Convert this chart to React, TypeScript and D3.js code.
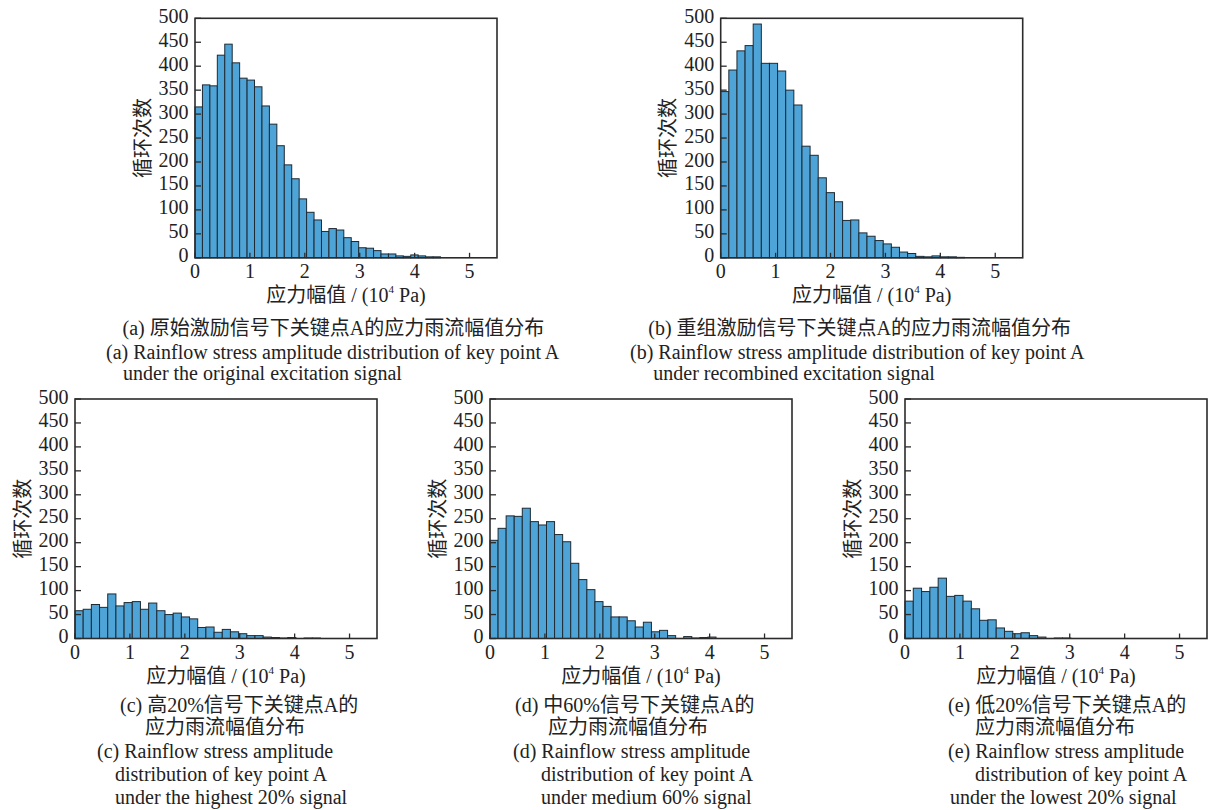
import React from "react";
import * as d3 from "d3";

// ---------- data ----------
const countsA = [315, 361, 359, 423, 446, 407, 375, 371, 357, 317, 279, 234, 194, 165, 123, 95, 79, 55, 61, 58, 42, 34, 21, 20, 15, 8, 8, 4, 3, 6, 4, 2, 2];
const countsB = [347, 392, 432, 443, 488, 406, 406, 390, 350, 319, 233, 214, 167, 136, 117, 78, 79, 52, 45, 36, 29, 22, 12, 9, 3, 2, 4, 2, 2, 1];
const countsC = [58, 61, 71, 65, 93, 68, 75, 77, 61, 74, 58, 50, 53, 45, 41, 23, 24, 13, 19, 14, 10, 6, 6, 3, 2, 1, 2, 0, 1, 1];
const countsD = [205, 230, 256, 255, 272, 244, 237, 244, 217, 202, 157, 123, 102, 77, 67, 45, 45, 37, 24, 34, 14, 17, 6, 0, 4, 1, 2, 3];
const countsE = [78, 105, 98, 107, 126, 88, 90, 78, 62, 38, 39, 22, 15, 10, 12, 6, 3, 0, 1, 1];
const binWidths = [0.1355, 0.148, 0.149, 0.147, 0.151];

const xTicks = [0, 1, 2, 3, 4, 5];
const yTicks = [0, 50, 100, 150, 200, 250, 300, 350, 400, 450, 500];
const xDomain = [0, 5.5];
const yDomain = [0, 500];

const yLabel = "循环次数";
const xLabelMain = "应力幅值 / (10";
const xLabelSup = "4";
const xLabelEnd = " Pa)";

const captionsA = ["(a) 原始激励信号下关键点A的应力雨流幅值分布", "(a) Rainflow stress amplitude distribution of key point A", "under the original excitation signal"];
const captionsB = ["(b) 重组激励信号下关键点A的应力雨流幅值分布", "(b) Rainflow stress amplitude distribution of key point A", "under recombined excitation signal"];
const captionsC = ["(c) 高20%信号下关键点A的", "应力雨流幅值分布", "(c) Rainflow stress amplitude", "distribution of key point A", "under the highest 20% signal"];
const captionsD = ["(d) 中60%信号下关键点A的", "应力雨流幅值分布", "(d) Rainflow stress amplitude", "distribution of key point A", "under medium 60% signal"];
const captionsE = ["(e) 低20%信号下关键点A的", "应力雨流幅值分布", "(e) Rainflow stress amplitude", "distribution of key point A", "under the lowest 20% signal"];

// ---------- layout ----------
const FONT = "'Liberation Serif', 'Noto Sans CJK SC', serif";
const BAR_FILL = "#4ea4d6";
const FRAME = "#2b2b2b";

type Panel = {
  counts: number[];
  bw: number;
  left: number;
  top: number;
  captions: string[];
  capPos: { x: number; y: number }[];
};

const PW = 302;
const PH = 239.5;

const panels: Panel[] = [
  {
    counts: countsA, bw: binWidths[0], left: 195, top: 18.3, captions: captionsA,
    capPos: [{ x: 122.5, y: 335 }, { x: 106, y: 359 }, { x: 123, y: 380 }],
  },
  {
    counts: countsB, bw: binWidths[1], left: 720.7, top: 18.3, captions: captionsB,
    capPos: [{ x: 648.3, y: 335 }, { x: 630, y: 359 }, { x: 653.3, y: 380 }],
  },
  {
    counts: countsC, bw: binWidths[2], left: 75, top: 399, captions: captionsC,
    capPos: [{ x: 120, y: 712 }, { x: 145, y: 734 }, { x: 97, y: 758 }, { x: 115, y: 781 }, { x: 115, y: 804 }],
  },
  {
    counts: countsD, bw: binWidths[3], left: 490, top: 399, captions: captionsD,
    capPos: [{ x: 515, y: 712 }, { x: 548, y: 734 }, { x: 513, y: 758 }, { x: 541, y: 781 }, { x: 541, y: 804 }],
  },
  {
    counts: countsE, bw: binWidths[4], left: 905, top: 399, captions: captionsE,
    capPos: [{ x: 948, y: 712 }, { x: 975, y: 734 }, { x: 948, y: 758 }, { x: 975, y: 781 }, { x: 950, y: 804 }],
  },
];

function Hist({ p }: { p: Panel }) {
  const x = d3.scaleLinear().domain(xDomain).range([p.left, p.left + PW]);
  const y = d3.scaleLinear().domain(yDomain).range([p.top + PH, p.top]);
  const bottom = p.top + PH;
  const cx = p.left + PW / 2;
  return (
    <g>
      {p.counts.map((c, i) =>
        c > 0 ? (
          <rect
            key={i}
            x={x(i * p.bw)}
            y={y(c)}
            width={x((i + 1) * p.bw) - x(i * p.bw)}
            height={bottom - y(c)}
            fill={BAR_FILL}
            stroke="#1e2a33"
            strokeWidth={1}
          />
        ) : null
      )}
      {/* frame */}
      <rect x={p.left} y={p.top} width={PW} height={PH} fill="none" stroke={FRAME} strokeWidth={1.6} />
      {/* y ticks */}
      {yTicks.map((t) => (
        <g key={"y" + t}>
          <line x1={p.left} x2={p.left + 6} y1={y(t)} y2={y(t)} stroke={FRAME} strokeWidth={1.3} />
          <text x={p.left - 6.5} y={y(t) + 4.5} textAnchor="end" fontSize={20} fontFamily={FONT} fill="#222">
            {t}
          </text>
        </g>
      ))}
      {/* x ticks */}
      {xTicks.map((t) => (
        <g key={"x" + t}>
          <line x1={x(t)} x2={x(t)} y1={bottom} y2={bottom - 5} stroke={FRAME} strokeWidth={1.3} />
          <text x={x(t)} y={bottom + 20} textAnchor="middle" fontSize={20} fontFamily={FONT} fill="#222">
            {t}
          </text>
        </g>
      ))}
      {/* y label */}
      <text
        transform={`translate(${p.left - 52.5},${p.top + PH / 2}) rotate(-90)`}
        textAnchor="middle"
        dominantBaseline="central"
        fontSize={20}
        fontFamily={FONT}
        fill="#222"
      >
        {yLabel}
      </text>
      {/* x label */}
      <text x={cx} y={bottom + 44} textAnchor="middle" fontSize={20} fontFamily={FONT} fill="#222">
        {xLabelMain}
        <tspan fontSize={11} dy={-9}>{xLabelSup}</tspan>
        <tspan dy={9}>{xLabelEnd}</tspan>
      </text>
      {/* captions */}
      {p.captions.map((c, i) => (
        <text key={"c" + i} x={p.capPos[i].x} y={p.capPos[i].y} fontSize={20} fontFamily={FONT} fill="#222">
          {c}
        </text>
      ))}
    </g>
  );
}

export default function App() {
  return (
    <svg
      width={1209}
      height={810}
      style={{ position: "absolute", left: 0, top: 0, background: "#fff" }}
    >
      <rect x={0} y={0} width={1209} height={810} fill="#fff" />
      {panels.map((p, i) => (
        <Hist key={i} p={p} />
      ))}
    </svg>
  );
}
